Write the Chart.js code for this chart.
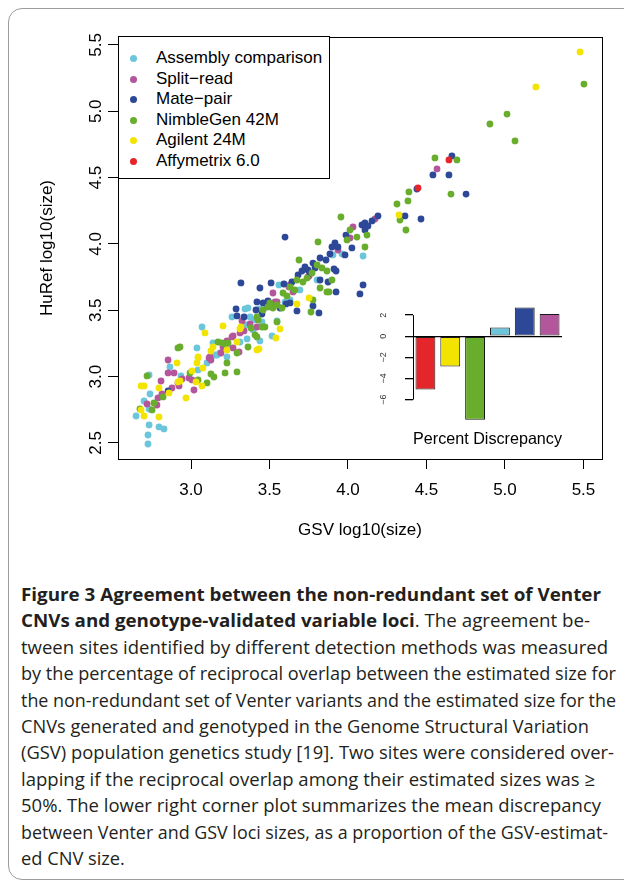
<!DOCTYPE html>
<html>
<head>
<meta charset="utf-8">
<script src="https://cdn.jsdelivr.net/npm/chart.js@4.4.0/dist/chart.umd.min.js"></script>
<style>
  html, body { margin: 0; padding: 0; background: #fff; }
  body { width: 624px; height: 882px; position: relative; overflow: hidden; font-family: "Liberation Sans", Arial, sans-serif; }
  #frame { position: absolute; left: 8px; top: 8px; width: 700px; height: 872px; border: 1px solid #9c9c9c; border-radius: 14px; box-sizing: border-box; }
  #main { position: absolute; left: 0; top: 0; }
  #inset { position: absolute; left: 360px; top: 295px; }
  #legend { position: absolute; left: 118px; top: 36px; width: 212px; height: 143px; border: 1px solid #000; background: #fff; box-sizing: border-box; }
  #legend .row { position: absolute; left: 0; height: 20px; line-height: 20px; font-size: 17px; color: #000; white-space: nowrap; }
  #legend .dot { position: absolute; left: 11px; top: 7px; width: 7px; height: 7px; border-radius: 50%; }
  #legend .txt { position: absolute; left: 37px; top: 0; }
  .cap { position: absolute; left: 21px; height: 26px; line-height: 26px; font-family: "Open Sans", "Noto Sans", sans-serif; font-size: 18.5px; color: #231f20; white-space: nowrap; transform-origin: 0 50%; }
  .cap b { font-weight: 700; }
</style>
</head>
<body>
<div id="frame"></div>
<canvas id="main" width="624" height="560"></canvas>
<div id="legend"></div>
<canvas id="inset" width="215" height="165"></canvas>
<div id="caption"></div>
<script>
// scatter series: [GSV log10(size), HuRef log10(size)]
const assembly = [[2.726,2.492],[2.726,2.560],[2.796,2.621],[2.828,2.606],[2.733,2.636],[2.650,2.703],[2.733,2.756],[2.701,2.817],[2.739,2.869],[2.866,3.073],[2.733,3.012],[3.038,3.216],[2.936,3.005],[3.045,3.050],[3.102,3.103],[3.153,3.163],[3.185,3.178],[3.070,3.374],[3.140,3.254],[3.166,3.163],[3.229,3.148],[3.236,3.216],[3.357,3.284],[3.395,3.352],[3.350,3.389],[3.261,3.450],[3.376,3.450],[3.344,3.510],[3.363,3.517],[3.401,3.427],[3.439,3.510],[3.548,3.419],[3.516,3.306],[3.439,3.269],[3.560,3.691],[3.599,3.563],[3.631,3.578],[3.803,3.728],[3.904,3.917],[3.962,3.924],[4.096,3.909],[3.694,3.653],[3.452,3.412],[3.312,3.261]];
const splitRead = [[2.854,3.125],[2.854,3.028],[2.892,3.028],[2.809,2.967],[2.943,2.982],[2.924,2.930],[2.879,2.914],[2.790,2.839],[2.815,2.869],[2.720,2.794],[2.783,2.786],[3.019,2.899],[3.006,2.975],[3.115,3.141],[3.127,3.125],[3.191,3.178],[3.306,3.186],[3.229,3.269],[3.268,3.306],[3.325,3.419],[3.338,3.344],[3.312,3.329],[3.376,3.397],[3.420,3.374],[3.484,3.525],[3.535,3.563],[3.522,3.630],[3.548,3.563],[3.631,3.691],[3.650,3.638],[3.752,3.759],[3.261,3.299],[3.204,3.223],[3.268,3.216],[3.121,3.148],[3.624,3.676],[3.745,3.751],[3.936,3.954],[4.013,4.045],[4.172,4.188],[4.032,4.128],[4.567,4.565],[2.917,2.952],[2.987,2.990]];
const matePair = [[4.662,4.663],[4.541,4.520],[4.643,4.520],[4.439,4.414],[4.752,4.376],[4.363,4.211],[4.465,4.188],[4.191,4.211],[4.153,4.173],[4.089,4.143],[4.108,4.158],[4.127,4.135],[4.108,4.105],[3.987,4.067],[3.599,4.052],[3.898,3.977],[3.917,4.007],[3.936,3.977],[3.822,3.894],[3.860,3.879],[3.885,3.924],[3.777,3.856],[3.726,3.826],[3.745,3.804],[3.682,3.766],[3.707,3.796],[3.758,3.781],[3.790,3.819],[3.911,3.811],[3.924,3.796],[3.822,3.728],[3.873,3.713],[3.592,3.698],[3.643,3.713],[3.510,3.706],[3.439,3.668],[3.318,3.706],[4.096,3.691],[4.076,3.623],[3.924,3.638],[3.567,3.517],[3.605,3.548],[3.420,3.563],[3.459,3.555],[3.490,3.570],[3.414,3.502],[3.452,3.472],[3.287,3.510],[3.293,3.457],[3.338,3.450],[3.631,3.555],[3.675,3.495],[3.777,3.532],[3.815,3.480],[2.854,2.892],[3.981,3.917],[4.025,3.970]];
const nimbleGen = [[5.503,5.205],[5.013,4.979],[4.904,4.904],[5.064,4.776],[4.554,4.648],[4.694,4.633],[4.388,4.392],[4.382,4.324],[4.656,4.376],[4.312,4.301],[4.331,4.180],[4.369,4.105],[3.955,4.203],[3.809,4.015],[4.121,4.067],[4.108,3.977],[3.994,4.030],[4.057,4.052],[4.013,4.105],[3.688,3.879],[3.898,3.728],[3.822,3.668],[3.879,3.638],[3.764,3.487],[3.777,3.578],[3.803,3.841],[3.834,3.819],[3.866,3.796],[3.675,3.728],[3.631,3.676],[3.586,3.630],[3.611,3.608],[3.662,3.653],[3.713,3.713],[3.739,3.743],[3.771,3.781],[3.503,3.555],[3.459,3.502],[3.420,3.450],[3.490,3.525],[3.522,3.517],[3.548,3.540],[3.471,3.374],[3.452,3.374],[3.427,3.427],[3.548,3.412],[3.580,3.517],[3.408,3.314],[3.382,3.367],[3.363,3.223],[3.293,3.178],[3.420,3.299],[3.172,3.261],[3.197,3.254],[3.217,3.246],[3.236,3.254],[3.229,3.103],[3.293,3.035],[3.217,3.028],[3.146,2.997],[3.127,3.020],[3.102,2.952],[3.045,2.975],[2.994,3.028],[2.917,3.216],[2.720,3.005],[2.675,2.756],[2.752,2.749],[2.822,2.847],[2.764,2.801],[2.930,3.223],[3.866,3.638]];
const agilent = [[5.478,5.447],[5.197,5.183],[4.325,4.218],[2.682,2.930],[2.701,2.930],[2.796,2.914],[2.860,2.877],[2.968,2.839],[2.701,2.703],[2.796,2.696],[2.682,2.749],[2.917,2.960],[2.911,3.103],[3.006,3.043],[3.038,3.103],[3.045,3.141],[3.076,3.065],[3.127,3.193],[3.229,3.201],[3.140,3.223],[3.204,3.382],[3.089,3.329],[3.318,3.374],[3.312,3.359],[3.420,3.201],[3.433,3.208],[3.567,3.359],[3.541,3.291],[3.045,3.148],[3.675,3.548],[3.752,3.593],[3.293,3.261],[3.070,2.930],[3.032,2.960],[2.930,2.967]];
const affymetrix = [[4.643,4.633],[4.446,4.422]];

const seriesNames = ["Assembly comparison", "Split\u2212read", "Mate\u2212pair", "NimbleGen 42M", "Agilent 24M", "Affymetrix 6.0"];
const seriesColors = ["#6cc6db", "#b4569b", "#2e4898", "#68ad2b", "#f3e400", "#e4262b"];
const seriesData = [assembly, splitRead, matePair, nimbleGen, agilent, affymetrix];

const xTicks = [3.0, 3.5, 4.0, 4.5, 5.0, 5.5];
const yTicks = [2.5, 3.0, 3.5, 4.0, 4.5, 5.0, 5.5];

// inset: percent discrepancy
const barCategories = ["Affymetrix 6.0", "Agilent 24M", "NimbleGen 42M", "Assembly comparison", "Mate\u2212pair", "Split\u2212read"];
const barValues = [-5.05, -2.86, -7.9, 0.83, 2.73, 2.1];
const barColors = ["#e4262b", "#f3e400", "#68ad2b", "#6cc6db", "#2e4898", "#b4569b"];
const barTicks = [-6, -4, -2, 0, 2];

const plotBox = {
  id: "plotBox",
  beforeDatasetsDraw(c) {
    const { ctx, chartArea: a } = c;
    ctx.save();
    ctx.strokeStyle = "#000";
    ctx.lineWidth = 1;
    ctx.strokeRect(a.left + 0.5, a.top + 0.5, a.right - a.left, a.bottom - a.top);
    ctx.restore();
  }
};

// draw so that later series sit on top (chart.js paints dataset 0 last)
const order = [5, 4, 3, 2, 1, 0];
const mainChart = new Chart(document.getElementById("main"), {
  type: "scatter",
  data: {
    datasets: order.map(i => ({
      label: seriesNames[i],
      data: seriesData[i].map(p => ({ x: p[0], y: p[1] })),
      backgroundColor: seriesColors[i],
      borderWidth: 0,
      pointRadius: 3.4,
      pointHoverRadius: 3.4
    }))
  },
  options: {
    responsive: false,
    animation: false,
    events: [],
    layout: { padding: { left: 0, top: 37, right: 22, bottom: 0 } },
    plugins: { legend: { display: false }, tooltip: { enabled: false } },
    scales: {
      x: {
        type: "linear", min: 2.535, max: 5.618,
        afterBuildTicks: s => { s.ticks = xTicks.map(v => ({ value: v })); },
        afterFit: s => { s.height = 101; s.paddingLeft = 0; s.paddingRight = 0; },
        border: { display: false },
        grid: { drawOnChartArea: false, tickLength: 10, color: "#000" },
        ticks: { color: "#000", font: { size: 17 }, padding: 11, maxRotation: 0, callback: v => v.toFixed(1) },
        title: { display: true, text: "GSV log10(size)", color: "#000", font: { size: 17 }, padding: { top: 0, bottom: 19 } }
      },
      y: {
        type: "linear", min: 2.379, max: 5.5596,
        afterBuildTicks: s => { s.ticks = yTicks.map(v => ({ value: v })); },
        afterFit: s => { s.width = 118; s.paddingTop = 0; s.paddingBottom = 0; },
        border: { display: false },
        grid: { drawOnChartArea: false, tickLength: 10, color: "#000" },
        ticks: { color: "#000", font: { size: 17 }, padding: 0, minRotation: 90, maxRotation: 90, crossAlign: "center", callback: v => v.toFixed(1) },
        title: { display: true, text: "HuRef log10(size)", color: "#000", font: { size: 17 }, padding: { top: 37, bottom: 0 } }
      }
    }
  },
  plugins: [plotBox]
});

// legend box
const legend = document.getElementById("legend");
seriesNames.forEach((name, i) => {
  const row = document.createElement("div");
  row.className = "row";
  row.style.top = (11 + i * 20.6) + "px";
  row.innerHTML = '<span class="dot" style="background:' + seriesColors[i] + '"></span><span class="txt">' + name + "</span>";
  legend.appendChild(row);
});

// short y axis line of the inset, from first to last tick (R style)
const insetAxis = {
  id: "insetAxis",
  afterDraw(c) {
    const { ctx } = c;
    const y = c.scales.y;
    const x = c.chartArea.left + 0.5;
    ctx.save();
    ctx.strokeStyle = "#000";
    ctx.lineWidth = 1;
    ctx.beginPath();
    ctx.moveTo(x, y.getPixelForValue(barTicks[barTicks.length - 1]));
    ctx.lineTo(x, y.getPixelForValue(barTicks[0]));
    ctx.stroke();
    ctx.restore();
  }
};

new Chart(document.getElementById("inset"), {
  type: "bar",
  data: {
    labels: barCategories,
    datasets: [{
      data: barValues,
      backgroundColor: barColors,
      borderColor: "#1a1a1a",
      borderWidth: 1,
      borderSkipped: false,
      barPercentage: 0.8,
      categoryPercentage: 1
    }]
  },
  options: {
    responsive: false,
    animation: false,
    events: [],
    layout: { padding: { left: 0, top: 8, right: 13, bottom: 0 } },
    plugins: {
      legend: { display: false },
      tooltip: { enabled: false },
      title: {
        display: true, position: "bottom", fullSize: false,
        text: "Percent Discrepancy", color: "#000",
        font: { family: "'Liberation Sans', Arial, sans-serif", size: 16.5, weight: "normal" },
        padding: { top: 5, bottom: 11 }
      }
    },
    scales: {
      x: { display: false },
      y: {
        min: -8.33, max: 3.15,
        afterBuildTicks: s => { s.ticks = barTicks.map(v => ({ value: v })); },
        afterFit: s => { s.width = 53; s.paddingTop = 0; s.paddingBottom = 0; },
        border: { display: false },
        grid: {
          drawOnChartArea: true, tickLength: 8, tickColor: "#000", lineWidth: 1.3,
          color: ctx => (ctx.tick && ctx.tick.value === 0 ? "#000" : "rgba(0,0,0,0)")
        },
        ticks: { color: "#333", font: { size: 9 }, padding: 16, minRotation: 90, maxRotation: 90, crossAlign: "center", callback: v => String(v).replace("-", "\u2212") }
      }
    }
  },
  plugins: [insetAxis]
});

// caption
const captionLines = [
  "<b>Figure 3 Agreement between the non-redundant set of Venter</b>",
  "<b>CNVs and genotype-validated variable loci</b>. The agreement be-",
  "tween sites identified by different detection methods was measured",
  "by the percentage of reciprocal overlap between the estimated size for",
  "the non-redundant set of Venter variants and the estimated size for the",
  "CNVs generated and genotyped in the Genome Structural Variation",
  "(GSV) population genetics study [19]. Two sites were considered over-",
  "lapping if the reciprocal overlap among their estimated sizes was \u2265",
  "50%. The lower right corner plot summarizes the mean discrepancy",
  "between Venter and GSV loci sizes, as a proportion of the GSV-estimat-",
  "ed CNV size."
];
const captionRight = [601, 590, 608, 616, 616, 589, 614, 595, 601, 608, null];
const caption = document.getElementById("caption");
let scaleSum = 0, scaleCount = 0;
captionLines.forEach((html, i) => {
  const d = document.createElement("div");
  d.className = "cap";
  d.style.top = (581 + i * 26.4) + "px";
  d.innerHTML = html;
  caption.appendChild(d);
  const w = d.getBoundingClientRect().width;
  let k;
  if (captionRight[i] !== null) {
    k = (captionRight[i] - 21) / w;
    if (i > 1) { scaleSum += k; scaleCount++; }
  } else {
    k = scaleSum / scaleCount;
  }
  d.style.transform = "scaleX(" + k.toFixed(4) + ")";
});
</script>
</body>
</html>
